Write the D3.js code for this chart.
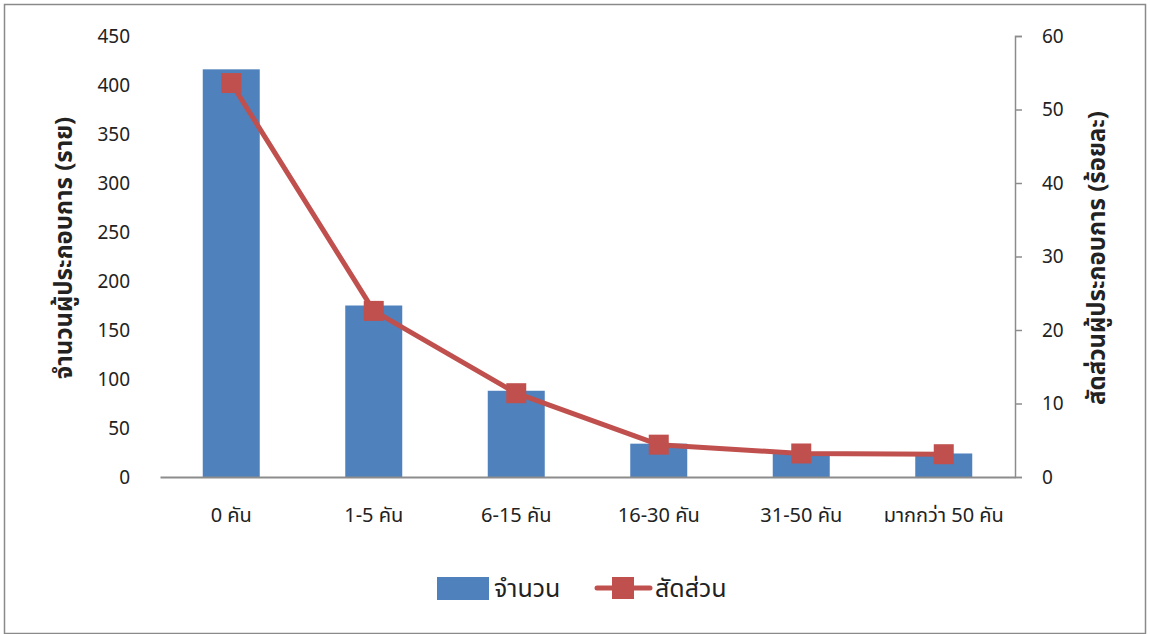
<!DOCTYPE html>
<html>
<head>
<meta charset="utf-8">
<script src="https://cdn.jsdelivr.net/npm/d3@7"></script>
<style>
  html, body { margin: 0; padding: 0; background: #fff; }
  svg text { font-family: "Tahoma", "Leelawadee UI", "Noto Sans Thai", "Noto Sans", "DejaVu Sans", sans-serif; fill: #222; }
</style>
</head>
<body>
<svg id="chart" width="1150" height="634"></svg>
<script>
// Fleet size groups and the number of operators in each
const categories = ["0 คัน", "1-5 คัน", "6-15 คัน", "16-30 คัน", "31-50 คัน", "มากกว่า 50 คัน"];
const counts = [416, 175, 88, 34, 25, 24];
// Share of operators in each group (percent)
const shares = [53.6, 22.6, 11.4, 4.4, 3.2, 3.1];
const leftTicks = [0, 50, 100, 150, 200, 250, 300, 350, 400, 450];
const rightTicks = [0, 10, 20, 30, 40, 50, 60];
const seriesNames = ["จำนวน", "สัดส่วน"];
const leftTitle = "จำนวนผู้ประกอบการ (ราย)";
const rightTitle = "สัดส่วนผู้ประกอบการ (ร้อยละ)";

const svg = d3.select("#chart");
const W = 1150, H = 634;
const plot = { left: 160, right: 1015, top: 36, bottom: 477 };
const barColor = "#4F81BD", lineColor = "#C0504D", axisColor = "#8c8c8c";

// outer frame
svg.append("rect").attr("x", 4.5).attr("y", 4.5).attr("width", W - 9).attr("height", H - 5)
  .attr("fill", "none").attr("stroke", "#8a8a8a").attr("stroke-width", 1.5);

const x = d3.scaleBand().domain(categories).range([plot.left, plot.right]).paddingInner(0.6).paddingOuter(0.3);
const yL = d3.scaleLinear().domain([0, 450]).range([plot.bottom, plot.top]);
const yR = d3.scaleLinear().domain([0, 60]).range([plot.bottom, plot.top]);

// bars
svg.append("g").selectAll("rect").data(counts).join("rect")
  .attr("x", (d, i) => x(categories[i]))
  .attr("y", d => yL(d))
  .attr("width", x.bandwidth())
  .attr("height", d => yL(0) - yL(d))
  .attr("fill", barColor);

// left axis: labels only
const gL = svg.append("g").attr("transform", `translate(${plot.left},0)`)
  .call(d3.axisLeft(yL).tickValues(leftTicks).tickSize(0).tickPadding(30));
gL.select(".domain").remove();
gL.selectAll("text").attr("font-size", 19).style("fill", "#222");

// right axis with outward ticks
const gR = svg.append("g").attr("transform", `translate(${plot.right},0)`)
  .call(d3.axisRight(yR).tickValues(rightTicks).tickSize(7).tickPadding(20));
gR.select(".domain").attr("stroke", axisColor).attr("stroke-width", 1.5);
gR.selectAll(".tick line").attr("stroke", axisColor).attr("stroke-width", 1.5);
gR.selectAll("text").attr("font-size", 19).style("fill", "#222");

// category axis
const gX = svg.append("g").attr("transform", `translate(0,${plot.bottom})`)
  .call(d3.axisBottom(x).tickSize(0).tickPadding(31));
gX.select(".domain").attr("stroke", axisColor).attr("stroke-width", 2);
gX.selectAll("text").attr("font-size", 20).style("fill", "#222");

// share line and markers
const cx = i => x(categories[i]) + x.bandwidth() / 2;
svg.append("path").datum(shares)
  .attr("fill", "none").attr("stroke", lineColor).attr("stroke-width", 5).attr("stroke-linejoin", "round")
  .attr("d", d3.line().x((d, i) => cx(i)).y(d => yR(d)));
svg.append("g").selectAll("rect").data(shares).join("rect")
  .attr("x", (d, i) => cx(i) - 10).attr("y", d => yR(d) - 10)
  .attr("width", 20).attr("height", 20).attr("fill", lineColor);

// axis titles
svg.append("text").attr("transform", `translate(72,248) rotate(-90)`)
  .attr("text-anchor", "middle").attr("font-size", 24).attr("font-weight", "bold").text(leftTitle);
svg.append("text").attr("transform", `translate(1105,258) rotate(-90)`)
  .attr("text-anchor", "middle").attr("font-size", 24).attr("font-weight", "bold").text(rightTitle);

// legend
const lg = svg.append("g");
lg.append("rect").attr("x", 437).attr("y", 577).attr("width", 52).attr("height", 23).attr("fill", barColor);
lg.append("text").attr("x", 494).attr("y", 597).attr("font-size", 25).text(seriesNames[0]);
lg.append("line").attr("x1", 597).attr("x2", 650).attr("y1", 588).attr("y2", 588)
  .attr("stroke", lineColor).attr("stroke-width", 5).attr("stroke-linecap", "round");
lg.append("rect").attr("x", 612).attr("y", 577).attr("width", 22).attr("height", 22).attr("fill", lineColor);
lg.append("text").attr("x", 655).attr("y", 597).attr("font-size", 25).text(seriesNames[1]);
</script>
</body>
</html>
